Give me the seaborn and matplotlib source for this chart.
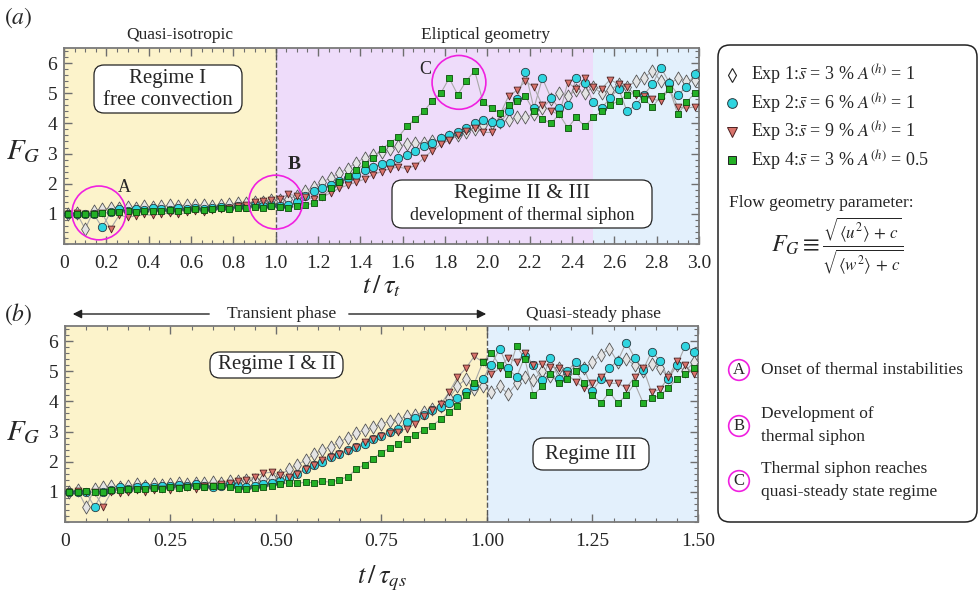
import numpy as np
import matplotlib
matplotlib.use('Agg')
import matplotlib.pyplot as plt
import seaborn as sns
from matplotlib.patches import FancyBboxPatch, FancyArrowPatch
from matplotlib.lines import Line2D
from matplotlib.ticker import MultipleLocator, FuncFormatter

# ---- data ----
t_a = np.linspace(0.02, 2.98, 75)   # t / tau_t
t_b = np.linspace(0.01, 1.49, 75)   # t / tau_qs

exp1_a = [1.0, 1.02, 0.5, 1.1, 1.15, 1.2, 1.2, 1.22, 1.2, 1.25,
          1.22, 1.25, 1.28, 1.25, 1.3, 1.28, 1.3, 1.27, 1.3, 1.32,
          1.35, 1.35, 1.4, 1.38, 1.45, 1.45, 1.5, 1.6, 1.75, 1.9,
          2.05, 2.2, 2.35, 2.5, 2.7, 2.85, 2.95, 3.05, 3.15, 3.25,
          3.3, 3.35, 3.35, 3.4, 3.45, 3.55, 3.6, 3.7, 3.8, 3.95,
          4.0, 4.05, 4.1, 4.2, 4.2, 4.3, 4.5, 4.8, 5.0, 4.9,
          5.1, 5.0, 5.2, 5.0, 5.1, 5.3, 5.2, 5.4, 5.5, 5.75,
          5.4, 5.3, 5.5, 5.4, 5.45]
exp2_a = [1.0, 1.0, 0.98, 1.0, 0.55, 1.05, 1.15, 1.1, 1.15, 1.12,
          1.18, 1.15, 1.12, 1.18, 1.15, 1.2, 1.17, 1.2, 1.22, 1.2,
          1.25, 1.22, 1.3, 1.25, 1.28, 1.25, 1.3, 1.4, 1.6, 1.75,
          1.85, 1.95, 2.1, 2.2, 2.3, 2.45, 2.55, 2.65, 2.7, 2.85,
          2.95, 3.1, 3.25, 3.35, 3.5, 3.6, 3.7, 3.85, 4.0, 4.1,
          4.05, 4.0, 4.4, 4.8, 5.7, 4.5, 5.5, 4.85, 4.5, 4.6,
          5.5, 5.35, 4.7, 4.5, 4.85, 5.15, 4.4, 4.6, 4.95, 5.3,
          5.85, 5.35, 4.95, 5.2, 5.65]
exp3_a = [1.0, 1.02, 0.98, 1.0, 1.02, 0.5, 0.95, 0.9, 0.92, 0.98,
          0.95, 1.0, 1.02, 0.98, 1.05, 1.08, 1.05, 1.12, 1.15, 1.2,
          1.25, 1.3, 1.38, 1.42, 1.45, 1.5, 1.65, 1.6, 1.55, 1.5,
          1.55, 1.7, 1.85, 1.95, 2.05, 2.15, 2.3, 2.4, 2.5, 2.55,
          2.5, 2.6, 2.85, 3.1, 3.3, 3.45, 3.6, 3.75, 3.85, 3.7,
          3.7, 4.3, 4.9, 5.1, 5.4, 5.2, 4.6, 4.4, 4.3, 5.35,
          5.15, 5.5, 5.2, 5.15, 5.45, 5.3, 5.2, 4.95, 4.9, 4.8,
          4.75, 5.15, 4.55, 4.5, 4.55]
exp4_a = [1.0, 1.0, 0.98, 1.0, 1.02, 1.05, 1.05, 1.08, 1.05, 1.1,
          1.08, 1.1, 1.12, 1.1, 1.12, 1.15, 1.12, 1.15, 1.18, 1.15,
          1.2, 1.18, 1.22, 1.2, 1.25, 1.22, 1.2, 1.25, 1.3, 1.35,
          1.55, 1.85, 2.05, 2.25, 2.45, 2.65, 2.85, 3.15, 3.35, 3.55,
          3.9, 4.15, 4.4, 4.75, 5.0, 5.5, 4.95, 5.4, 5.75, 4.7,
          4.5, 4.35, 4.6, 4.75, 4.9, 4.4, 4.15, 4.0, 4.3, 3.85,
          4.2, 3.9, 4.2, 4.4, 4.6, 4.75, 4.95, 5.0, 4.8, 4.55,
          4.9, 5.15, 4.3, 4.7, 5.0]

exp1_b = [1.0, 1.05, 0.5, 1.1, 1.15, 1.2, 1.15, 1.2, 1.25, 1.2,
          1.25, 1.22, 1.25, 1.3, 1.25, 1.28, 1.3, 1.32, 1.3, 1.35,
          1.35, 1.4, 1.38, 1.42, 1.45, 1.55, 1.75, 1.9, 2.05, 2.25,
          2.4, 2.5, 2.65, 2.8, 2.95, 3.05, 3.15, 3.25, 3.35, 3.4,
          3.5, 3.55, 3.65, 3.75, 3.85, 4.1, 4.5, 4.75, 4.4, 4.5,
          4.3, 4.5, 4.25, 4.6, 4.8, 4.7, 5.0, 4.85, 5.1, 4.9,
          5.2, 5.1, 5.3, 5.55, 5.75, 5.3, 5.4, 5.2, 5.0, 5.25,
          5.1, 4.8, 5.2, 5.0, 5.3]
exp2_b = [1.0, 1.0, 0.98, 0.5, 1.0, 1.05, 1.15, 1.1, 1.15, 1.2,
          1.15, 1.2, 1.18, 1.22, 1.2, 1.25, 1.2, 1.15, 1.2, 1.25,
          1.2, 1.15, 1.2, 1.25, 1.3, 1.35, 1.45, 1.6, 1.75, 1.9,
          2.0, 2.15, 2.25, 2.4, 2.5, 2.6, 2.75, 2.85, 3.0, 3.1,
          3.3, 3.45, 3.55, 3.7, 3.8, 3.95, 4.1, 4.3, 4.5, 4.75,
          5.2, 5.75, 5.1, 4.8, 5.5, 5.2, 4.7, 5.45, 4.75, 5.0,
          5.3, 5.1, 4.35, 4.75, 5.1, 5.35, 5.95, 5.45, 5.05, 5.65,
          5.35, 4.75, 5.2, 5.85, 5.65]
exp3_b = [1.0, 1.02, 1.0, 0.98, 0.5, 1.0, 0.95, 1.0, 1.05, 1.0,
          1.05, 1.1, 1.05, 1.12, 1.15, 1.1, 1.18, 1.2, 1.25, 1.3,
          1.35, 1.4, 1.5, 1.62, 1.65, 1.55, 1.5, 1.6, 1.75, 1.9,
          2.05, 2.15, 2.25, 2.35, 2.5, 2.65, 2.75, 2.85, 2.95, 3.0,
          3.1, 3.25, 3.5, 3.7, 3.9, 4.3, 4.8, 5.1, 5.5, 5.3,
          4.9, 5.1, 5.45, 5.3, 5.6, 5.2, 5.25, 5.15, 5.1, 4.9,
          4.65, 4.45, 4.6, 4.8, 4.6, 4.6, 4.45, 4.8, 5.1, 4.3,
          4.4, 4.8, 5.35, 5.2, 4.9]
exp4_b = [1.0, 1.0, 1.02, 0.98, 1.0, 1.05, 1.05, 1.08, 1.1, 1.08,
          1.12, 1.1, 1.15, 1.12, 1.15, 1.18, 1.15, 1.2, 1.18, 1.15,
          1.1, 1.08, 1.12, 1.15, 1.2, 1.25, 1.3, 1.28, 1.32, 1.3,
          1.35, 1.32, 1.4, 1.5, 1.75, 1.9, 2.1, 2.3, 2.45, 2.6,
          2.75, 2.9, 3.05, 3.2, 3.4, 3.65, 3.85, 4.2, 4.6, 5.3,
          5.6, 5.2, 4.9, 5.85, 5.4, 4.2, 4.5, 4.9, 4.6, 4.75,
          5.0, 4.6, 4.2, 3.95, 4.3, 3.95, 4.2, 4.6, 3.95, 4.1,
          4.2, 4.45, 4.75, 4.9, 5.1]

exp_labels = [r'Exp 1:$\bar{s}$ = 3 % $A^{(h)}$ = 1',
              r'Exp 2:$\bar{s}$ = 6 % $A^{(h)}$ = 1',
              r'Exp 3:$\bar{s}$ = 9 % $A^{(h)}$ = 1',
              r'Exp 4:$\bar{s}$ = 3 % $A^{(h)}$ = 0.5']

# marker, size, face, edge
styles = [('d', 44, '#e4e4e4', '#555555'),
          ('o', 36, '#2fd5e0', '#2a3a40'),
          ('v', 24, '#d9736b', '#4a2020'),
          ('s', 17, '#23b026', '#0b4d0b')]

sns.set_style('ticks')
plt.rcParams['font.family'] = ['Liberation Serif', 'DejaVu Serif']
plt.rcParams['mathtext.fontset'] = 'stix'

W, H = 979, 595
fig = plt.figure(figsize=(W / 100, H / 100), dpi=100)
inch = fig.dpi_scale_trans


def P(x, y):
    # pixel position (from top-left) -> inches
    return x / 100, (H - y) / 100


def frac(x0, y0, x1, y1):
    return [x0 / W, 1 - y1 / H, (x1 - x0) / W, (y1 - y0) / H]


ax_a = fig.add_axes(frac(64, 48, 699, 244))
ax_b = fig.add_axes(frac(65, 326, 698, 522))


def draw_panel(ax, t, series):
    for vals in series:
        sns.lineplot(x=t, y=np.array(vals), ax=ax, color='#a8a8a8', lw=0.8,
                     sort=False, estimator=None, zorder=2)
    order = [3, 0, 1, 2]
    for i in order:
        m, s, fc, ec = styles[i]
        sns.scatterplot(x=t, y=np.array(series[i]), ax=ax, marker=m, s=s,
                        color=fc, edgecolor=ec, linewidth=0.6, zorder=3 + i,
                        legend=False)


def style_axes(ax, xmax, major, minor, fmt):
    ax.set_xlim(0, xmax)
    ax.set_ylim(0, 6.5)
    ax.xaxis.set_major_locator(MultipleLocator(major))
    ax.xaxis.set_minor_locator(MultipleLocator(minor))
    ax.yaxis.set_minor_locator(MultipleLocator(0.2))
    ax.set_yticks([1, 2, 3, 4, 5, 6])
    ax.xaxis.set_major_formatter(FuncFormatter(fmt))
    ax.tick_params(which='both', direction='in', top=True, right=True,
                   color='#6e6e6e', labelsize=14)
    ax.tick_params(which='major', length=6, width=1.0)
    ax.tick_params(which='minor', length=3, width=0.8)
    ax.tick_params(axis='x', pad=8)
    ax.tick_params(axis='y', pad=5)
    for sp in ax.spines.values():
        sp.set_color('#7a7a7a')
        sp.set_linewidth(1.3)
    ax.set_ylabel('')


# ---- panel (a) ----
ax_a.axvspan(0, 1.0, color='#fcf3cb', lw=0, zorder=0)
ax_a.axvspan(1.0, 2.5, color='#eedcfa', lw=0, zorder=0)
ax_a.axvspan(2.5, 3.0, color='#e3f0fc', lw=0, zorder=0)
ax_a.axvline(1.0, color='#555555', ls='--', lw=1.0, zorder=1)
draw_panel(ax_a, t_a, [exp1_a, exp2_a, exp3_a, exp4_a])
style_axes(ax_a, 3.0, 0.2, 0.05, lambda v, p: '0' if abs(v) < 1e-9 else f'{v:.1f}')
ax_a.set_xlabel(r'$t\,/\,\tau_t$', fontsize=19)
ax_a.xaxis.set_label_coords(0.5, -0.15)

# ---- panel (b) ----
ax_b.axvspan(0, 1.0, color='#fcf3cb', lw=0, zorder=0)
ax_b.axvspan(1.0, 1.5, color='#e3f0fc', lw=0, zorder=0)
ax_b.axvline(1.0, color='#555555', ls='--', lw=1.0, zorder=1)
draw_panel(ax_b, t_b, [exp1_b, exp2_b, exp3_b, exp4_b])
style_axes(ax_b, 1.5, 0.25, 0.05, lambda v, p: '0' if abs(v) < 1e-9 else f'{v:.2f}')
ax_b.set_xlabel(r'$t\,/\,\tau_{qs}$', fontsize=19)
ax_b.xaxis.set_label_coords(0.5, -0.21)

# magenta event circles
for ax, (cx, cy) in [(ax_a, (0.165, 1.03)), (ax_a, (1.0, 1.39)), (ax_a, (1.866, 5.36))]:
    ax.scatter([cx], [cy], s=1500, facecolors='none', edgecolors='#f020e0',
               linewidths=1.2, zorder=10, clip_on=False)

txt = dict(transform=inch, ha='center', va='center')
fig.text(*P(124, 188), 'A', fontsize=13, **txt)
fig.text(*P(294, 164), 'B', fontsize=14, fontweight='bold', **txt)
fig.text(*P(425, 69), 'C', fontsize=13, **txt)

# y labels, panel letters and headings
fig.text(*P(23, 152), r'$F_G$', fontsize=21, **txt)
fig.text(*P(23, 433), r'$F_G$', fontsize=21, **txt)
fig.text(*P(18, 18), r'$(a)$', fontsize=17, **txt)
fig.text(*P(18, 314), r'$(b)$', fontsize=17, **txt)
fig.text(*P(180, 35), 'Quasi-isotropic', fontsize=12.5, **txt)
fig.text(*P(486, 35), 'Eliptical geometry', fontsize=12.5, **txt)
fig.text(*P(282, 314), 'Transient phase', fontsize=12.5, **txt)
fig.text(*P(593, 314), 'Quasi-steady phase', fontsize=12.5, **txt)
for x0, x1 in [(212, 70), (346, 489)]:
    fig.add_artist(FancyArrowPatch(P(x0, 314), P(x1, 314), transform=inch,
                                   arrowstyle='-|>', mutation_scale=13,
                                   lw=1.0, color='#222222'))


def rbox(x0, y0, x1, y1, r=0.1, lw=0.9):
    fig.add_artist(FancyBboxPatch(P(x0, y1), (x1 - x0) / 100, (y1 - y0) / 100,
                                  boxstyle=f'round,pad=0,rounding_size={r}',
                                  transform=inch, fc='white', ec='#222222',
                                  lw=lw, zorder=20))


rbox(94, 65, 242, 113)
fig.text(*P(168, 78), 'Regime I', fontsize=15, zorder=21, **txt)
fig.text(*P(168, 101), 'free convection', fontsize=15, zorder=21, **txt)
rbox(392, 180, 652, 228)
fig.text(*P(522, 193), 'Regime II & III', fontsize=15.5, zorder=21, **txt)
fig.text(*P(522, 215), 'development of thermal siphon', fontsize=13, zorder=21, **txt)
rbox(210, 352, 343, 378)
fig.text(*P(277, 365), 'Regime I & II', fontsize=15, zorder=21, **txt)
rbox(533, 438, 649, 470)
fig.text(*P(591, 454), 'Regime III', fontsize=15, zorder=21, **txt)

# ---- right-hand legend panel ----
rbox(718, 45, 977, 522, r=0.12, lw=1.1)
handles = [Line2D([], [], ls='none', marker='d', ms=7.5, mfc='white', mec='#222222', mew=0.8),
           Line2D([], [], ls='none', marker='o', ms=7, mfc=styles[1][2], mec='#2a3a40', mew=0.7),
           Line2D([], [], ls='none', marker='v', ms=6.5, mfc=styles[2][2], mec='#4a2020', mew=0.7),
           Line2D([], [], ls='none', marker='s', ms=6, mfc=styles[3][2], mec='#222222', mew=0.7)]
leg = fig.legend(handles, exp_labels, loc='upper left', bbox_to_anchor=P(723, 63),
                 bbox_transform=inch, frameon=False, fontsize=13, handlelength=1.0,
                 handletextpad=0.55, labelspacing=0.22, borderpad=0, borderaxespad=0)
leg.set_zorder(25)

fig.text(*P(729, 203), 'Flow geometry parameter:', fontsize=12.5, transform=inch,
         ha='left', va='center', zorder=25)
fig.text(*P(837, 246),
         r'$F_G \equiv \frac{\sqrt{\langle u^2\rangle\, +\, c}}{\sqrt{\langle w^2\rangle\, +\, c}}$',
         fontsize=17.5, zorder=25, **txt)

events = [('A', 370, ['Onset of thermal instabilities']),
          ('B', 426, ['Development of', 'thermal siphon']),
          ('C', 481, ['Thermal siphon reaches', 'quasi-steady state regime'])]
for letter, yc, lines in events:
    fig.text(*P(739, yc), letter, fontsize=12, zorder=25,
             bbox=dict(boxstyle='circle,pad=0.14', fc='white', ec='#f020e0', lw=1.2), **txt)
    offs = [0] if len(lines) == 1 else [-12, 11]
    for line, dy in zip(lines, offs):
        fig.text(*P(761, yc + dy), line, fontsize=12.5, transform=inch,
                 ha='left', va='center', zorder=25)

fig.savefig('out.png', dpi=100)
